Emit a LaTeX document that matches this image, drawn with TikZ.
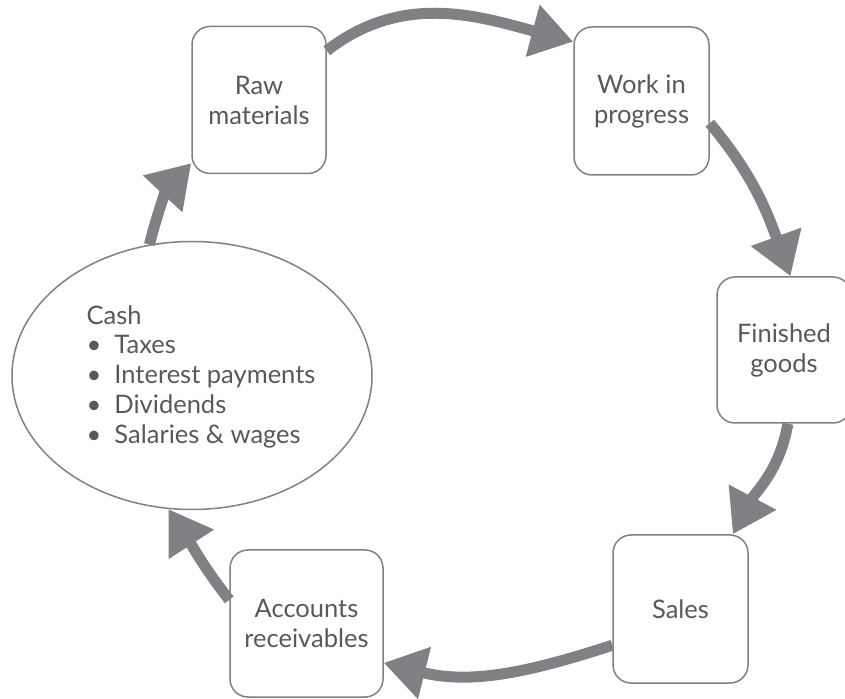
\documentclass[tikz,border=0pt]{standalone}
\usepackage{fontspec}
\setmainfont{Lato}
\usetikzlibrary{arrows.meta,shapes.geometric}
\definecolor{txt}{HTML}{58595B}
\definecolor{bord}{HTML}{808184}
\definecolor{arr}{HTML}{808184}
\begin{document}
\begin{tikzpicture}[x=1pt,y=1pt,
  every node/.style={font=\fontsize{25.5}{30}\selectfont, text=txt},
  stage/.style={draw=bord, line width=1.5pt, rounded corners=18pt, fill=white,
    inner sep=0pt, align=center, minimum width=134pt, minimum height=147pt},
  flow/.style={draw=arr, line width=11pt, -{Triangle[length=42pt,width=51pt]}}]
\useasboundingbox (0,0) rectangle (845,698);
\node[stage] (raw) at (259,598) {Raw\\materials};
\node[stage, minimum width=135pt, minimum height=148pt] (wip) at (641.5,597) {Work in\\progress};
\node[stage, minimum height=146pt] (fin) at (784,348) {Finished\\goods};
\node[stage, minimum width=135pt, minimum height=148pt] (sales) at (680.5,89) {Sales};
\node[stage, minimum width=153pt] (ar) at (306.5,74.5) {Accounts\\receivables};
\node[ellipse, draw=bord, line width=1.5pt, fill=white, inner sep=0pt,
  minimum width=360pt, minimum height=268pt] (cash) at (192,322.5) {};
\node[inner sep=0pt, align=left, anchor=center] (cashtxt) at ([xshift=9pt,yshift=-1pt]cash.center)
  {Cash\\[-1pt]
   \textbullet\ \ Taxes\\
   \textbullet\ \ Interest payments\\
   \textbullet\ \ Dividends\\
   \textbullet\ \ Salaries \& wages};
\draw[flow] (raw.36) to[out=38,in=165] (wip.139);
\draw[flow] (wip.-18) to[out=-50,in=110] (fin.85);
\draw[flow] (fin.-87) to[out=-100,in=62] (sales.55);
\draw[flow] (sales.-152) to[out=-162,in=-14] (ar.-27);
\draw[flow] (ar.163) to[out=128,in=-57] (cash.-100);
\draw[flow] (cash.108) to[out=76,in=-133] (raw.-137);
\end{tikzpicture}
\end{document}
